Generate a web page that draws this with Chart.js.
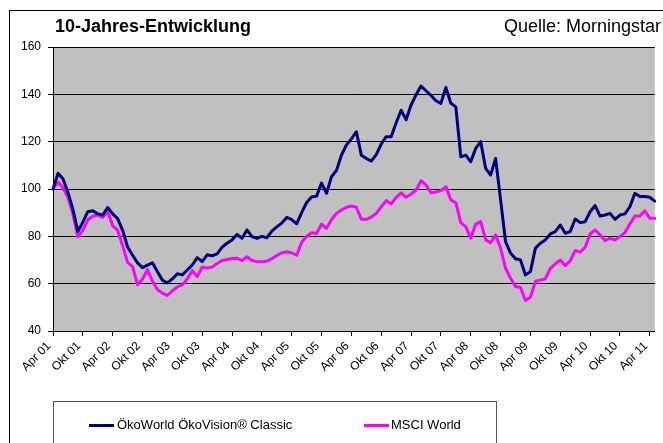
<!DOCTYPE html>
<html>
<head>
<meta charset="utf-8">
<script src="https://cdn.jsdelivr.net/npm/chart.js@4/dist/chart.umd.min.js"></script>
<style>
  html, body { margin: 0; padding: 0; background: #ffffff; }
  #wrap { position: relative; width: 663px; height: 443px; overflow: hidden; font-family: "Liberation Sans", Arial, sans-serif; }
  #frame { position: absolute; left: 9px; top: 10px; width: 700px; height: 500px; border-left: 1px solid #000; border-top: 1px solid #000; }
  #title { position: absolute; left: 55px; top: 16px; font-size: 18px; font-weight: bold; color: #000; white-space: nowrap; }
  #source { position: absolute; right: 2px; top: 16px; font-size: 18px; color: #000; white-space: nowrap; }
  #chartbox { position: absolute; left: 0; top: 0; width: 663px; height: 443px; }
  #legend { position: absolute; left: 53px; top: 401px; width: 442px; height: 60px; border: 1px solid #555; border-bottom: none; }
  .lg-line { position: absolute; height: 3px; width: 25px; top: 22px; }
  .lg-text { position: absolute; top: 15px; font-size: 13px; color: #000; white-space: nowrap; }
</style>
</head>
<body>
<div id="wrap">
  <div id="frame"></div>
  <div id="chartbox"><canvas id="c" width="663" height="443"></canvas></div>
  <div id="title">10-Jahres-Entwicklung</div>
  <div id="source">Quelle: Morningstar</div>
  <div id="legend">
    <div class="lg-line" style="left:35px;background:#000080;"></div>
    <div class="lg-text" id="lg1" style="left:63px;"></div>
    <div class="lg-line" style="left:310px;background:#ff00ff;"></div>
    <div class="lg-text" id="lg2" style="left:337px;"></div>
  </div>
</div>
<script>
// ---- Data (monthly, Apr 2001 .. May 2011) ----
const monthNames = ['Jan','Feb','Mär','Apr','Mai','Jun','Jul','Aug','Sep','Okt','Nov','Dez'];
const startYear = 2001;
const startMonth = 3; // April
const pointCount = 122;

const seriesNames = ['ÖkoWorld ÖkoVision® Classic', 'MSCI World'];

const oekoVision = [
  100.0, 106.6, 104.3, 98.5, 91.5, 82.0, 86.0, 90.4, 90.8, 89.5, 89.0, 92.2,
  89.5, 87.5, 82.5, 75.5, 72.0, 68.8, 66.8, 67.8, 68.8, 65.0, 61.5, 60.3,
  62.0, 64.2, 63.7, 65.8, 67.9, 71.0, 69.3, 72.2, 71.8, 72.6, 75.4, 77.1,
  78.5, 80.8, 79.2, 82.7, 79.9, 79.1, 80.0, 79.4, 82.2, 84.0, 85.6, 88.0,
  87.1, 85.3, 90.0, 94.3, 96.6, 97.0, 102.5, 98.2, 105.2, 107.8, 114.3, 118.6,
  121.2, 124.2, 114.3, 112.9, 111.8, 114.5, 119.0, 122.1, 122.1, 128.0, 133.3, 129.3,
  135.5, 139.8, 143.5, 141.5, 139.5, 137.3, 136.2, 142.9, 136.2, 134.7, 113.6, 114.3,
  111.5, 117.2, 120.0, 108.7, 105.9, 112.9, 95.4, 77.8, 72.9, 70.5, 70.0, 63.7,
  65.1, 75.0, 77.1, 78.5, 81.0, 82.0, 84.8, 81.3, 82.0, 87.3, 85.8, 86.2,
  90.4, 93.0, 88.6, 89.0, 89.7, 87.2, 89.0, 89.5, 92.5, 98.2, 96.8, 96.8,
  96.5, 94.9
];

const msciWorld = [
  100.0, 103.0, 100.5, 96.5, 89.5, 79.8, 82.5, 87.0, 88.5, 89.0, 88.0, 90.5,
  84.5, 82.5, 76.0, 69.0, 67.2, 59.5, 62.0, 66.0, 61.0, 57.5, 56.0, 55.0,
  57.0, 58.6, 59.5, 62.0, 65.5, 63.0, 67.0, 66.6, 67.0, 68.5, 69.8, 70.2,
  70.6, 70.7, 69.8, 71.4, 69.8, 69.3, 69.3, 69.5, 70.5, 71.9, 73.0, 73.5,
  73.0, 72.0, 77.5, 80.0, 81.5, 81.2, 85.2, 83.4, 87.0, 89.7, 91.1, 92.3,
  92.8, 92.3, 87.2, 87.2, 88.1, 89.7, 92.5, 95.1, 93.7, 96.5, 98.4, 96.5,
  97.9, 99.5, 103.5, 101.7, 98.4, 98.7, 99.3, 101.0, 95.4, 94.2, 85.8, 84.1,
  79.2, 85.2, 86.2, 78.5, 77.3, 80.6, 75.0, 66.5, 62.3, 58.8, 58.4, 52.9,
  54.3, 60.9, 61.6, 62.0, 66.5, 68.4, 70.0, 67.6, 69.6, 74.0, 73.3, 75.4,
  81.0, 82.7, 80.6, 78.2, 79.2, 78.5, 79.9, 81.6, 85.2, 88.6, 88.6, 90.8,
  87.6, 87.6
];

const yTicks = [40, 60, 80, 100, 120, 140, 160];
const shownMonths = ['Apr', 'Okt'];

// ---- Category labels ----
const labels = [];
for (let i = 0; i < pointCount; i++) {
  const m = (startMonth + i) % 12;
  const y = startYear + Math.floor((startMonth + i) / 12);
  labels.push(monthNames[m] + ' ' + String(y).slice(2));
}

document.getElementById('lg1').textContent = seriesNames[0];
document.getElementById('lg2').textContent = seriesNames[1];

const plotBg = {
  id: 'plotBg',
  beforeDraw(chart) {
    const a = chart.chartArea, ctx = chart.ctx;
    ctx.save();
    ctx.fillStyle = '#c0c0c0';
    ctx.fillRect(a.left, a.top, a.right - a.left, a.bottom - a.top);
    ctx.restore();
  }
};

const FONT = '"Liberation Sans", Arial, sans-serif';

new Chart(document.getElementById('c'), {
  type: 'line',
  data: {
    labels: labels,
    datasets: [
      { label: seriesNames[0], data: oekoVision, borderColor: '#000080', borderWidth: 3, pointRadius: 0, tension: 0, borderJoinStyle: 'round', borderCapStyle: 'round', fill: false },
      { label: seriesNames[1], data: msciWorld, borderColor: '#ff00ff', borderWidth: 3, pointRadius: 0, tension: 0, borderJoinStyle: 'round', borderCapStyle: 'round', fill: false }
    ]
  },
  options: {
    responsive: false,
    animation: false,
    events: [],
    layout: { padding: { top: 47, right: 4, bottom: 0, left: 0 } },
    plugins: { legend: { display: false }, title: { display: false }, tooltip: { enabled: false } },
    scales: {
      x: {
        type: 'category',
        offset: false,
        afterFit(scale) { scale.height = 112; },
        border: { display: true, color: '#000', width: 1 },
        grid: { display: true, drawOnChartArea: false, drawTicks: true, tickLength: 5, color: '#000', lineWidth: 1 },
        ticks: {
          autoSkip: false, maxRotation: 45, minRotation: 45, padding: 3, labelOffset: -4,
          color: '#000', font: { family: FONT, size: 12 },
          callback(value, index) {
            const l = labels[index];
            return shownMonths.includes(l.split(' ')[0]) && (index % 6 === 0) ? l : null;
          }
        }
      },
      y: {
        min: 40, max: 160,
        afterFit(scale) { scale.width = 53; },
        afterBuildTicks(scale) { scale.ticks = yTicks.map(v => ({ value: v })); },
        border: { display: true, color: '#000', width: 1 },
        grid: { display: true, drawOnChartArea: true, drawTicks: true, tickLength: 5, color: '#000', lineWidth: 1 },
        ticks: { color: '#000', padding: 7, font: { family: FONT, size: 12 } }
      }
    }
  },
  plugins: [plotBg]
});
</script>
</body>
</html>
